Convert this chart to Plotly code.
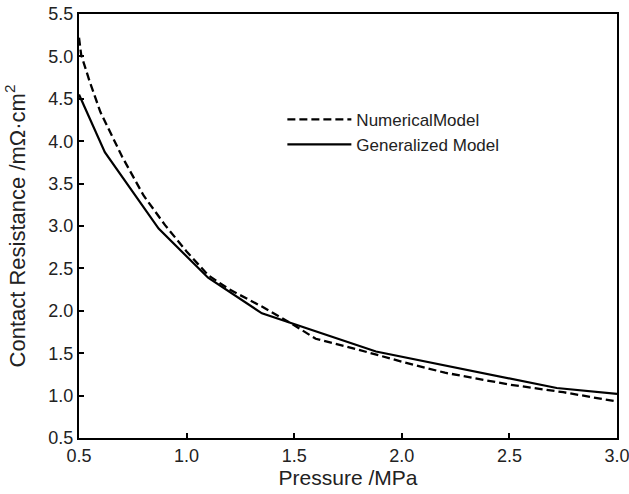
import plotly.graph_objects as go

num_x = [0.5, 0.51, 0.55, 0.6, 0.7, 0.8, 0.9, 1.0, 1.1, 1.2, 1.35, 1.5, 1.6, 1.8, 2.0, 2.2, 2.5, 2.75, 3.0]
num_y = [5.22, 5.02, 4.70, 4.34, 3.82, 3.36, 3.01, 2.70, 2.42, 2.25, 2.05, 1.83, 1.67, 1.54, 1.40, 1.27, 1.13, 1.04, 0.93]

gen_x = [0.5, 0.62, 0.87, 1.1, 1.35, 1.6, 1.88, 2.72, 3.0]
gen_y = [4.55, 3.87, 2.97, 2.39, 1.97, 1.76, 1.52, 1.09, 1.02]

x_ticks = [0.5, 1.0, 1.5, 2.0, 2.5, 3.0]
y_ticks = [0.5, 1.0, 1.5, 2.0, 2.5, 3.0, 3.5, 4.0, 4.5, 5.0, 5.5]

fig = go.Figure()
fig.add_trace(go.Scatter(x=num_x, y=num_y, mode="lines", name="NumericalModel", legendgroup="a",
                         line=dict(color="black", width=2.3, dash="8px,4px")))
fig.add_trace(go.Scatter(x=gen_x, y=gen_y, mode="lines", name="Generalized Model", legendgroup="b",
                         line=dict(color="black", width=2.2)))

axis_common = dict(showgrid=False, zeroline=False, showline=True, linecolor="black",
                   linewidth=2, mirror=True, ticks="inside", ticklen=5, tickwidth=2,
                   tickcolor="black", tickfont=dict(size=18, color="#222"), automargin=False,
                   ticklabeloverflow="allow")

fig.update_xaxes(range=[0.5, 3.0], tickvals=x_ticks, tickformat=".1f",
                 title=dict(text="Pressure /MPa", font=dict(size=21, color="#222"), standoff=5),
                 **axis_common)
fig.update_yaxes(range=[0.5, 5.5], tickvals=y_ticks, tickformat=".1f",
                 title=dict(text="Contact Resistance /mΩ·cm<sup>2</sup>", font=dict(size=22, color="#222"), standoff=17),
                 **axis_common)

fig.update_layout(
    width=629, height=494,
    margin=dict(l=79, r=12, t=14, b=56),
    paper_bgcolor="white", plot_bgcolor="white",
    font=dict(family="Liberation Sans, Arial, sans-serif", color="#222"),
    legend=dict(x=0.378, y=0.793, xanchor="left", yanchor="top", bgcolor="rgba(0,0,0,0)",
                font=dict(size=17, color="#222"), itemwidth=64, traceorder="grouped",
                tracegroupgap=0),
)

fig.write_html("out.html", config={"displayModeBar": False},
               post_script="document.body.style.margin='0';document.body.style.overflow='hidden';")
